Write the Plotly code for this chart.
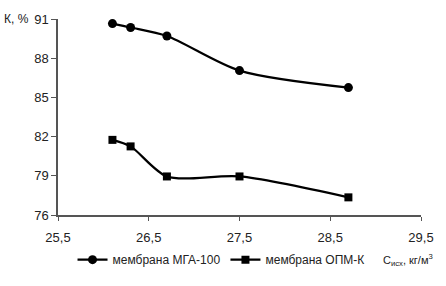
import plotly.graph_objects as go

x_vals = [26.1, 26.3, 26.7, 27.5, 28.7]
mga_100 = [90.65, 90.35, 89.7, 87.05, 85.75]
opm_k = [81.75, 81.25, 78.95, 78.95, 77.35]
x_ticks = [25.5, 26.5, 27.5, 28.5, 29.5]
y_ticks = [76, 79, 82, 85, 88, 91]

FONT = "Liberation Sans Narrow, Arial Narrow, Liberation Sans, Arial"

fig = go.Figure()
fig.add_trace(go.Scatter(
    x=x_vals, y=mga_100, mode="lines+markers", name="мембрана МГА-100",
    line=dict(color="black", width=2.2, shape="spline", smoothing=0.8),
    marker=dict(symbol="circle", size=9, color="black"),
))
fig.add_trace(go.Scatter(
    x=x_vals, y=opm_k, mode="lines+markers", name="мембрана ОПМ-К",
    line=dict(color="black", width=2.2, shape="spline", smoothing=0.8),
    marker=dict(symbol="square", size=8, color="black"),
))

fig.update_layout(
    width=446, height=286,
    margin=dict(l=58, r=22, t=15, b=65),
    paper_bgcolor="white", plot_bgcolor="white",
    separators=", ",
    font=dict(family=FONT, size=12, color="#222"),
    showlegend=True,
    legend=dict(orientation="h", x=0.04, y=-0.228, xanchor="left", yanchor="middle",
                font=dict(family=FONT, size=12), itemwidth=30, tracegroupgap=0,
                bgcolor="rgba(0,0,0,0)"),
    xaxis=dict(range=[25.5, 29.5], tickvals=x_ticks, tickformat=".1f",
               tickfont=dict(size=13),
               showgrid=False, zeroline=False, showline=True, linecolor="#555", linewidth=1.5,
               ticks="outside", ticklen=4, tickcolor="#555", ticklabelstandoff=6),
    yaxis=dict(range=[76, 91], tickvals=y_ticks, tickfont=dict(size=13),
               showgrid=False, zeroline=False, showline=True, linecolor="#555", linewidth=1.5,
               ticks="outside", ticklen=5, tickcolor="#555"),
    annotations=[
        dict(text="К, %", xref="paper", yref="paper", x=-0.155, y=1.0,
             xanchor="left", yanchor="middle", showarrow=False, font=dict(family=FONT, size=12)),
        dict(text="C<sub>исх</sub>, кг/м<sup>3</sup>", xref="paper", yref="paper", x=0.89, y=-0.228,
             xanchor="left", yanchor="middle", showarrow=False, font=dict(family=FONT, size=11)),
    ],
)

fig.write_html("out.html", config={"displayModeBar": False},
               post_script="document.body.style.margin='0';")
